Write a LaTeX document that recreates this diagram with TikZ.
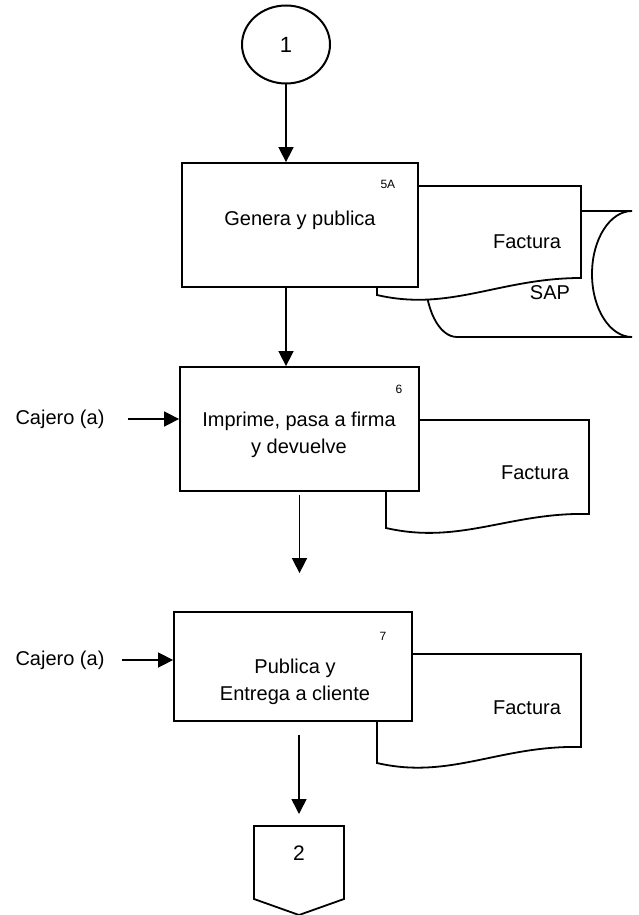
\documentclass[tikz,border=0pt]{standalone}
\usepackage{fontspec}
\setmainfont{Liberation Sans}
\usetikzlibrary{arrows.meta, positioning, shapes.geometric}

\begin{document}
\begin{tikzpicture}[
    x=1pt, y=-1pt,
    proc/.style={draw, line width=1.8pt, fill=white, inner sep=0pt},
    shp/.style={draw, line width=1.8pt, fill=white},
    arrow/.style={-{Triangle[length=15pt, width=15pt]}, line width=1.6pt},
    txt/.style={font=\fontsize{20}{27}\selectfont, align=center, inner sep=0pt},
    num/.style={font=\fontsize{12}{14}\selectfont, inner sep=0pt}
]
\useasboundingbox (0,0) rectangle (638,915);

% SAP storage behind the first Factura
\draw[shp] (457,211) -- (632,211)
    .. controls (610,211) and (592,239) .. (592,274)
    .. controls (592,309) and (610,337) .. (632,337)
    -- (457,337)
    .. controls (439,337) and (425,309) .. (425,274)
    .. controls (425,239) and (439,211) .. (457,211) -- cycle;

% Factura documents
\draw[shp] (377,295) -- (377,186) -- (581,186) -- (581,278)
    .. controls (500,278) and (450,312) .. (377,295) -- cycle;
\draw[shp] (386,528) -- (386,420) -- (589,420) -- (589,514)
    .. controls (510,512) and (460,545) .. (386,528) -- cycle;
\draw[shp] (377,763) -- (377,654) -- (581,654) -- (581,747)
    .. controls (500,745) and (450,780) .. (377,763) -- cycle;

% process boxes
\node[proc, minimum width=236pt, minimum height=124pt] (b1) at (300,225) {};
\node[proc, minimum width=239pt, minimum height=124pt] (b2) at (299.5,429) {};
\node[proc, minimum width=238pt, minimum height=109pt] (b3) at (293,666.5) {};

\node[txt] (t1) at (300,220) {Genera y publica};
\node[txt] (t2) at (299,435) {Imprime, pasa a firma\\y devuelve};
\node[txt] (t3) at (295,682) {Publica y\\Entrega a cliente};

\node[num] (n1) at ([shift={(-31,22)}]b1.north east) {5A};
\node[num] (n2) at ([shift={(-21,23)}]b2.north east) {6};
\node[num] (n3) at ([shift={(-30,25)}]b3.north east) {7};

\node[txt] (f1) at (527,242) {Factura};
\node[txt] (sap) at (550,293) {SAP};
\node[txt] (f2) at (535,473) {Factura};
\node[txt] (f3) at (527,708) {Factura};

% connectors
\node[ellipse, draw, line width=2pt, minimum width=88pt, minimum height=78pt, inner sep=0pt,
    font=\fontsize{22}{24}\selectfont] (c1) at (286,44.5) {1};
\draw[shp] (254,826) -- (344,826) -- (344,899) -- (299,915) -- (254,899) -- cycle;
\node[txt, font=\fontsize{21}{24}\selectfont] (c2) at (299,853) {2};
\coordinate (c2top) at (299,826);

% side inputs
\node[txt] (caj1) at (60,419) {Cajero (a)};
\node[txt] (caj2) at (60,660) {Cajero (a)};
\draw[arrow, shorten <=23pt] (caj1.east) -- (caj1.east -| b2.west);
\draw[arrow, shorten <=17pt] (caj2.east) -- (caj2.east -| b3.west);

% flow
\draw[arrow] (c1.south) -- (c1.south |- b1.north);
\draw[arrow] (b1.south -| c1.south) -- (b2.north -| c1.south);
\draw[arrow, shorten <=3pt, shorten >=38pt] (b2.south) -- (b2.south |- b3.north);
\draw[arrow, shorten <=13pt, shorten >=12pt] (b3.south -| c2top) -- (c2top);

\end{tikzpicture}
\end{document}
